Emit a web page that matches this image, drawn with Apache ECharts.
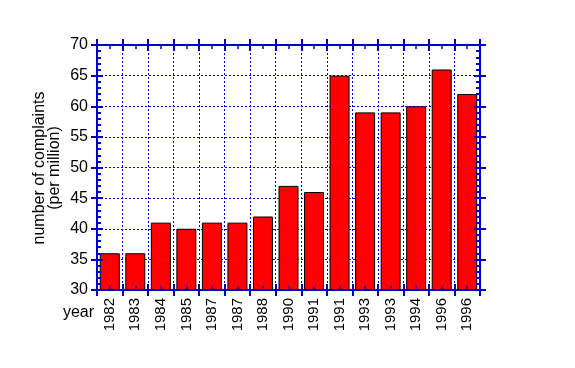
<!DOCTYPE html>
<html>
<head>
<meta charset="utf-8">
<script src="https://cdn.jsdelivr.net/npm/echarts@6/dist/echarts.min.js"></script>
<style>
  html, body { margin: 0; padding: 0; background: #fff; }
  #chart { width: 575px; height: 368px; }
</style>
</head>
<body>
<div id="chart"></div>
<script>
// data
const years = ['1982', '1983', '1984', '1985', '1987', '1987', '1988', '1990', '1991', '1991', '1993', '1993', '1994', '1996', '1996']
const complaints = [36, 36, 41, 40, 41, 41, 42, 47, 46, 65, 59, 59, 60, 66, 62]
const yMin = 30
const yMax = 70
const yStep = 5

const blue = '#0000cc'
const gridBlue = '#0000ff'
const font = 'Liberation Sans, Arial, sans-serif'

// helper axes only carry the tick marks / frame lines
function tickX (pos, inside, withLine) {
  return {
    type: 'value',
    position: pos,
    min: 0,
    max: years.length,
    interval: 1,
    z: 5,
    axisLine: { show: withLine, onZero: false, lineStyle: { color: blue, width: 2 } },
    axisTick: { show: true, inside: inside, length: 6, lineStyle: { color: blue, width: 2 } },
    minorTick: { show: inside, splitNumber: 2, length: 4, lineStyle: { color: blue, width: 1.5 } },
    axisLabel: { show: false },
    splitLine: { show: false }
  }
}
function tickY (pos, inside, withLine) {
  return {
    type: 'value',
    position: pos,
    min: yMin,
    max: yMax,
    interval: yStep,
    z: 5,
    axisLine: { show: withLine, onZero: false, lineStyle: { color: blue, width: 2 } },
    axisTick: { show: true, inside: inside, length: 6, lineStyle: { color: blue, width: 2 } },
    minorTick: { show: inside, splitNumber: 5, length: 4, lineStyle: { color: blue, width: 2 } },
    axisLabel: { show: false },
    splitLine: { show: false }
  }
}

const chart = echarts.init(document.getElementById('chart'), null, { renderer: 'canvas' })
chart.setOption({
  animation: false,
  backgroundColor: '#fff',
  textStyle: { fontFamily: font },
  grid: { left: 97, top: 45, width: 383, height: 245 },
  xAxis: [
    {
      type: 'category',
      position: 'bottom',
      data: years,
      z: 0,
      axisLine: { show: false },
      axisTick: { show: false },
      axisLabel: {
        rotate: 90,
        margin: 8,
        interval: 0,
        color: '#000',
        fontSize: 15,
        fontFamily: font
      },
      splitLine: { show: true, lineStyle: { color: gridBlue, type: [2, 2], width: 1 } }
    },
    tickX('bottom', false, true),
    tickX('bottom', true, false),
    tickX('top', false, true),
    tickX('top', true, false)
  ],
  yAxis: [
    {
      type: 'value',
      position: 'left',
      min: yMin,
      max: yMax,
      interval: yStep,
      z: 0,
      axisLine: { show: false },
      axisTick: { show: false },
      axisLabel: { margin: 9, color: '#000', fontSize: 16, fontFamily: font },
      splitLine: { show: true, lineStyle: { color: gridBlue, type: [2, 2], width: 1 } }
    },
    tickY('left', false, true),
    tickY('left', true, false),
    tickY('right', false, true),
    tickY('right', true, false)
  ],
  graphic: [
    {
      type: 'text',
      x: 47,
      y: 168,
      rotation: Math.PI / 2,
      style: {
        text: 'number of complaints\n(per million)',
        fontSize: 16,
        fontFamily: font,
        fill: '#000',
        align: 'center',
        verticalAlign: 'middle',
        lineHeight: 15
      }
    },
    {
      type: 'text',
      x: 94,
      y: 313,
      style: {
        text: 'year',
        fontSize: 16,
        fontFamily: font,
        fill: '#000',
        align: 'right',
        verticalAlign: 'middle'
      }
    }
  ],
  series: [
    {
      type: 'bar',
      xAxisIndex: 0,
      yAxisIndex: 0,
      data: complaints,
      barWidth: 20,
      z: 2,
      itemStyle: { color: '#ff0000', borderColor: '#000', borderWidth: 1 }
    }
  ]
})
</script>
</body>
</html>
